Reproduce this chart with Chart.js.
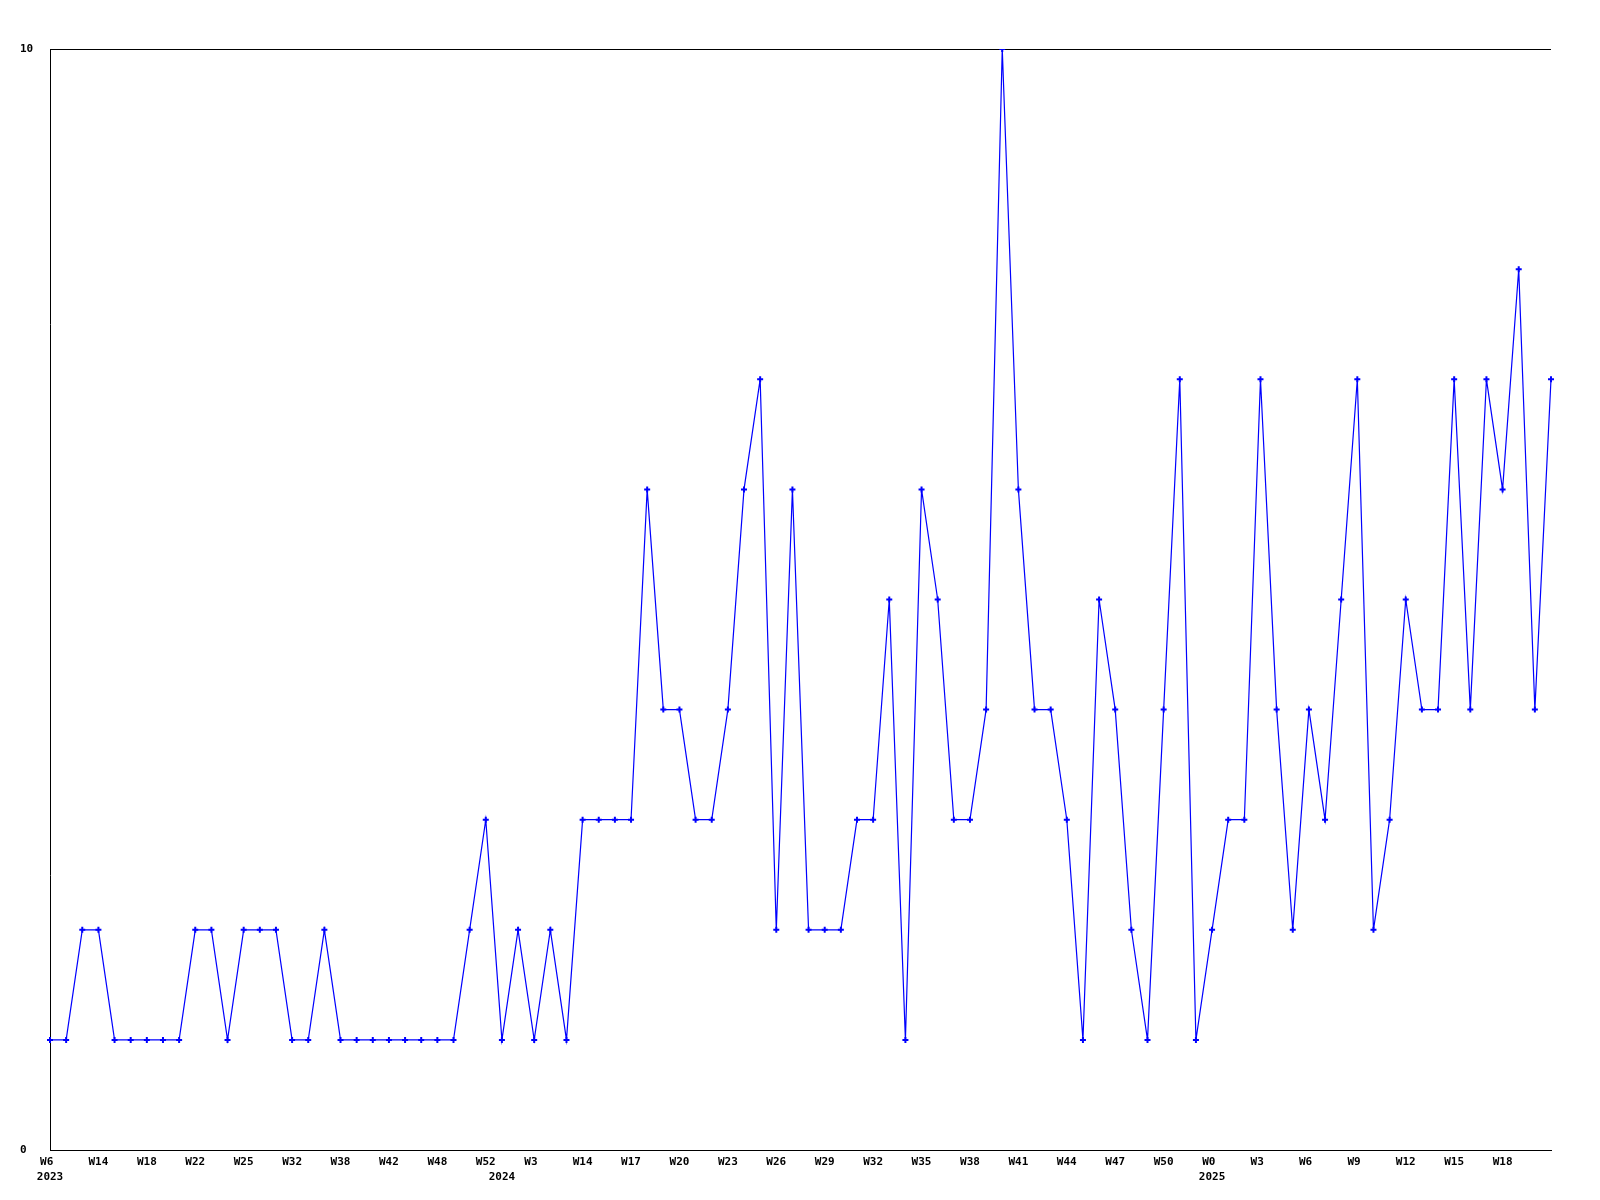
<!DOCTYPE html>
<html>
<head>
  <meta charset="UTF-8" />
  <title>Weekly counts</title>
  <script src="https://cdn.jsdelivr.net/npm/chart.js"></script>
  <style>
    body { margin: 0; background: #fff; }
    #wrap { width: 1600px; height: 1200px; }
  </style>
</head>
<body>
  <div id="wrap"><canvas id="weekChart" width="1600" height="1200"></canvas></div>
  <script>
    // week labels shown on the axis, one every 3 points
    const weekLabels = ['W6', 'W14', 'W18', 'W22', 'W25', 'W32', 'W38', 'W42', 'W48', 'W52',
      'W3', 'W14', 'W17', 'W20', 'W23', 'W26', 'W29', 'W32', 'W35', 'W38', 'W41', 'W44', 'W47', 'W50',
      'W0', 'W3', 'W6', 'W9', 'W12', 'W15', 'W18'];
    const yearLabels = ['2023', '2024', '2025'];
    const yearStart = [0, 28, 72]; // point index where each year begins
    const counts = [
      1, 1, 2, 2, 1, 1, 1, 1, 1, 2,
      2, 1, 2, 2, 2, 1, 1, 2, 1, 1,
      1, 1, 1, 1, 1, 1, 2, 3, 1, 2,
      1, 2, 1, 3, 3, 3, 3, 6, 4, 4,
      3, 3, 4, 6, 7, 2, 6, 2, 2, 2,
      3, 3, 5, 1, 6, 5, 3, 3, 4, 10,
      6, 4, 4, 3, 1, 5, 4, 2, 1, 4,
      7, 1, 2, 3, 3, 7, 4, 2, 4, 3,
      5, 7, 2, 3, 5, 4, 4, 7, 4, 7,
      6, 8, 4, 7
    ];

    const categories = counts.map((v, i) => (i % 3 === 0 && weekLabels[i / 3]) ? weekLabels[i / 3] : '');

    const tickFont = { family: '"DejaVu Sans Mono", monospace', size: 11, weight: 'bold', lineHeight: 15 / 11 };

    const ctx = document.getElementById('weekChart').getContext('2d');
    new Chart(ctx, {
      type: 'line',
      data: {
        labels: categories,
        datasets: [{
          data: counts,
          borderColor: '#0000ff',
          backgroundColor: '#0000ff',
          borderWidth: 1.2,
          tension: 0,
          fill: false,
          pointStyle: 'cross',
          pointRadius: 3,
          pointBorderWidth: 2,
          pointBorderColor: '#0000ff'
        }]
      },
      options: {
        responsive: false,
        animation: false,
        layout: { padding: { left: 20, right: 49, top: 49, bottom: 10 } },
        plugins: { legend: { display: false }, tooltip: { enabled: false } },
        scales: {
          x: {
            offset: false,
            grid: { display: false, drawTicks: false },
            border: { display: true, color: '#000', width: 1 },
            ticks: {
              autoSkip: false,
              maxRotation: 0,
              padding: 5,
              color: '#000',
              font: tickFont,
              callback: function (value, index) {
                const week = categories[index] ? categories[index].padEnd(3, ' ') : '';
                const y = yearStart.indexOf(index);
                if (y >= 0) return [week, yearLabels[y]];
                return week;
              }
            }
          },
          y: {
            min: 0,
            max: 10,
            grid: { color: '#000', lineWidth: 1, drawTicks: false },
            border: { display: true, color: '#000', width: 1 },
            ticks: {
              stepSize: 10,
              crossAlign: 'far',
              padding: 4,
              color: '#000',
              font: tickFont
            },
            afterFit: function (scale) { scale.width = 30; }
          }
        }
      }
    });
  </script>
</body>
</html>
